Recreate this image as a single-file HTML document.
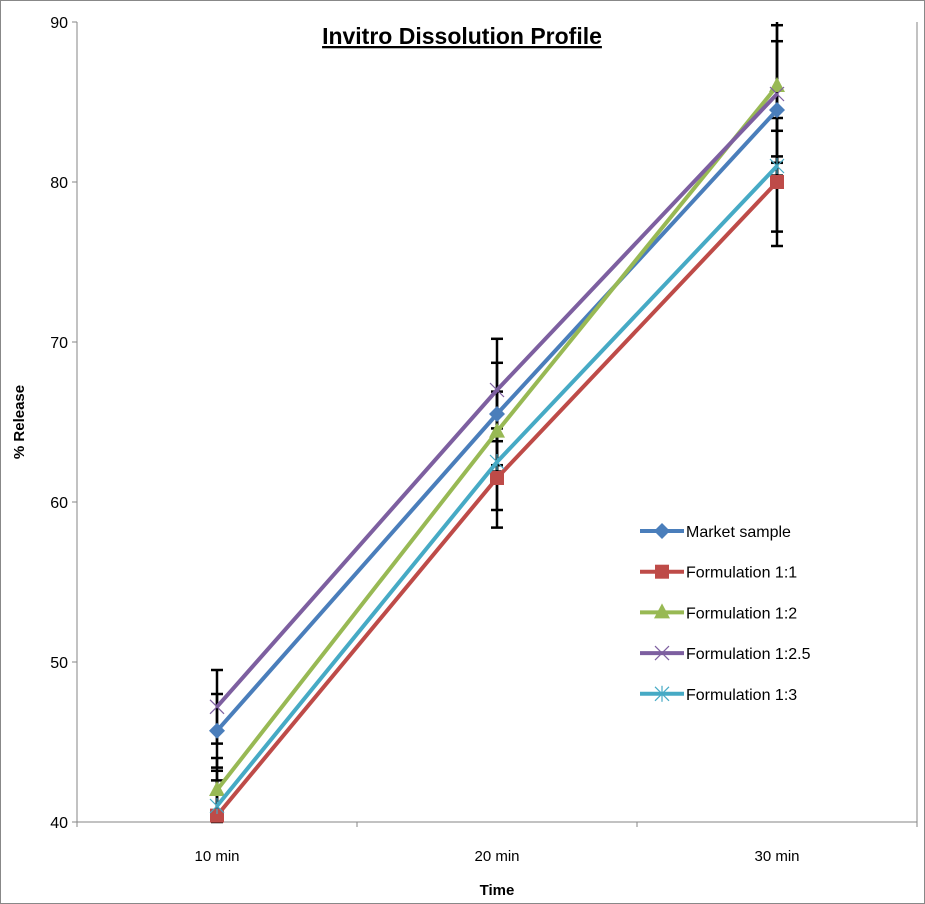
<!DOCTYPE html>
<html><head><meta charset="utf-8"><style>
body{margin:0;background:#fff}
svg{display:block;font-family:"Liberation Sans",sans-serif}
</style></head><body>
<svg id="c" width="925" height="904" xmlns="http://www.w3.org/2000/svg">
<rect x="0.5" y="0.5" width="924" height="903" fill="#fff" stroke="#888"/>
<text x="462" y="44" text-anchor="middle" font-size="23" font-weight="bold" text-decoration="underline">Invitro Dissolution Profile</text>
<text transform="translate(24,422) rotate(-90)" text-anchor="middle" font-size="15" font-weight="bold">% Release</text>
<text x="497" y="895" text-anchor="middle" font-size="15" font-weight="bold">Time</text>
<g id="axes"></g><g id="err"></g><g id="lines"></g><g id="legend"></g>
</svg>
<script>
const categories=["10 min","20 min","30 min"];
const yTicks=[40,50,60,70,80,90];
const seriesNames=["Market sample","Formulation 1:1","Formulation 1:2","Formulation 1:2.5","Formulation 1:3"];
const market=[45.7,65.5,84.5];
const f11=[40.4,61.5,80];
const f12=[42,64.4,86];
const f125=[47.2,67,85.5];
const f13=[41,62.5,81];
const errMarket=[2.3,3.2,7.6];
const errF11=[2.2,3.1,4];
const errF12=[2,2.5,2.8];
const errF125=[2.3,3.2,4.3];
const errF13=[2.2,3,0.6];
const colors=["#4a7ebb","#be4b48","#98b954","#7d5fa0","#46aac5"];
const markers=["diamond","square","triangle","x","star"];
const data=[market,f11,f12,f125,f13];
const errs=[errMarket,errF11,errF12,errF125,errF13];
const NS="http://www.w3.org/2000/svg";
const L=77,R=917,T=22,B=822,ymin=40,ymax=90;
function X(i){return L+(R-L)/categories.length*(i+0.5);}
function Y(v){return B-(v-ymin)/(ymax-ymin)*(B-T);}
function mk(t,a,p){const e=document.createElementNS(NS,t);for(const k in a)e.setAttribute(k,a[k]);p.appendChild(e);return e;}
const ax=document.getElementById('axes');
let e=mk('line',{x1:L,y1:T,x2:L,y2:B,stroke:'#868686'},ax);

e=mk('line',{x1:L,y1:B,x2:R,y2:B,stroke:'#868686'},ax);

e=mk('line',{x1:R,y1:T,x2:R,y2:B,stroke:'#868686'},ax);

for(let i=0;i<=categories.length;i++){const x=L+(R-L)/categories.length*i;mk('line',{x1:x,y1:B,x2:x,y2:B+5,stroke:'#868686'},ax);}
yTicks.forEach(v=>{mk('line',{x1:L-5,y1:Y(v),x2:L,y2:Y(v),stroke:'#868686'},ax);
 const t=mk('text',{x:L-9,y:Y(v)+6,'text-anchor':'end','font-size':'16'},ax);t.textContent=v;
 });
categories.forEach((c,i)=>{const t=mk('text',{x:X(i),y:861,'text-anchor':'middle','font-size':'15'},ax);t.textContent=c;
 });
function clampY(v){return Math.max(T,Math.min(B,Y(v)));}
const eg=document.getElementById('err');
data.forEach((s,k)=>s.forEach((v,i)=>{const x=X(i),e1=clampY(v+errs[k][i]),e2=clampY(v-errs[k][i]);
 const g=mk('g',{},eg);
 mk('line',{x1:x,y1:e1,x2:x,y2:e2,stroke:'#000','stroke-width':2.5},g);
 if(Y(v+errs[k][i])>=T)mk('line',{x1:x-6,y1:e1,x2:x+6,y2:e1,stroke:'#000','stroke-width':2.5},g);
 if(Y(v-errs[k][i])<=B)mk('line',{x1:x-6,y1:e2,x2:x+6,y2:e2,stroke:'#000','stroke-width':2.5},g);}));
function marker(p,type,x,y,c){
 if(type=='diamond')return mk('path',{d:`M${x} ${y-8}L${x+8} ${y}L${x} ${y+8}L${x-8} ${y}Z`,fill:c},p);
 if(type=='square')return mk('rect',{x:x-7,y:y-7,width:14,height:14,fill:c},p);
 if(type=='triangle')return mk('path',{d:`M${x} ${y-9}L${x+8} ${y+6}L${x-8} ${y+6}Z`,fill:c},p);
 const g=mk('g',{stroke:c,'stroke-width':1.2},p);
 mk('line',{x1:x-7,y1:y-7,x2:x+7,y2:y+7},g);mk('line',{x1:x-7,y1:y+7,x2:x+7,y2:y-7},g);
 if(type=='star')mk('line',{x1:x,y1:y-8,x2:x,y2:y+8},g);return g;}
const lg=document.getElementById('lines');
data.forEach((s,k)=>{const g=mk('g',{},lg);
 mk('polyline',{points:s.map((v,i)=>X(i)+','+Y(v)).join(' '),fill:'none',stroke:colors[k],'stroke-width':4},g);
 s.forEach((v,i)=>{const m=marker(g,markers[k],X(i),Y(v),colors[k]);});});
const leg=document.getElementById('legend');
seriesNames.forEach((n,k)=>{const y=531+k*40.7;const g=mk('g',{},leg);
 
 mk('line',{x1:640,y1:y,x2:684,y2:y,stroke:colors[k],'stroke-width':4},g);
 marker(g,markers[k],662,y,colors[k]);
 const t=mk('text',{x:686,y:y+6,'font-size':'16'},g);t.textContent=n;});
</script>
</body></html>
